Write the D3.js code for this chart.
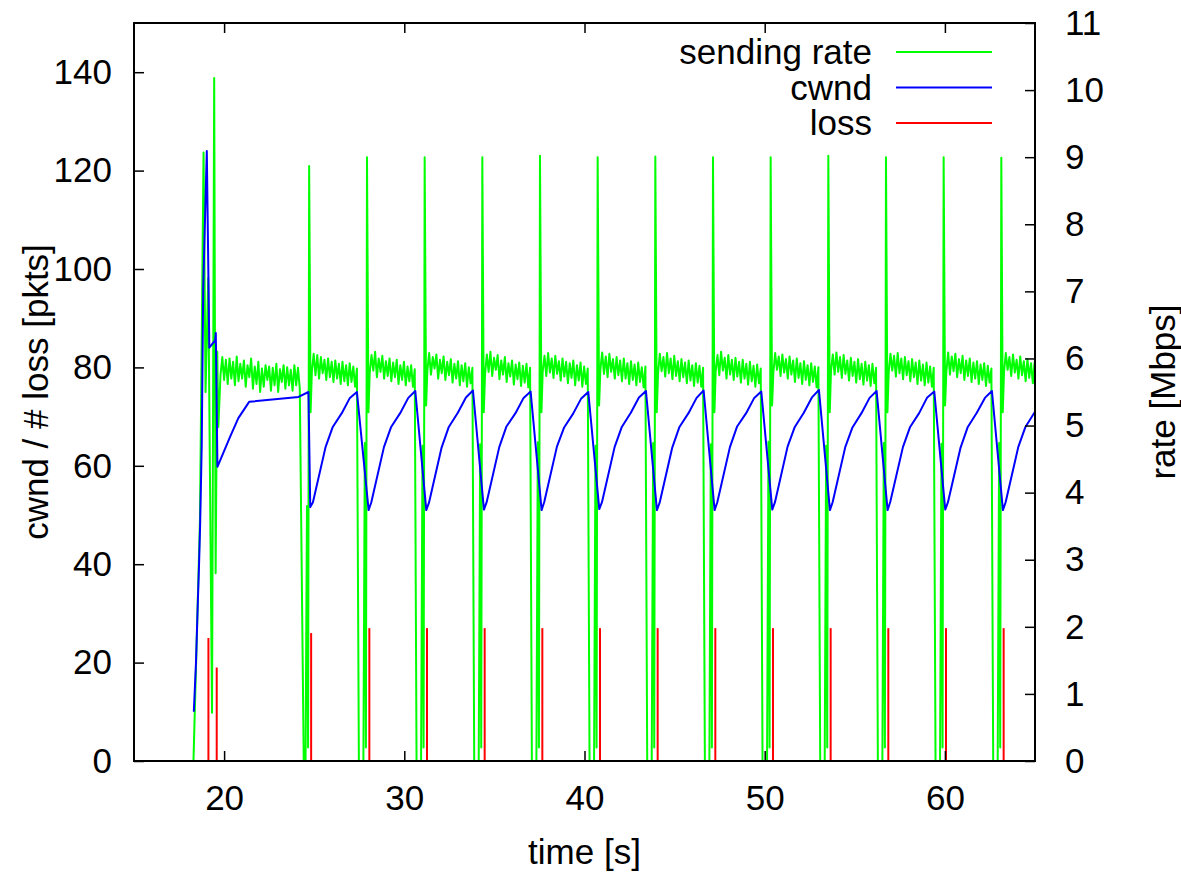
<!DOCTYPE html>
<html>
<head>
<meta charset="utf-8">
<script src="https://cdn.jsdelivr.net/npm/d3@7/dist/d3.min.js"></script>
<style>
    body { margin: 0; background: #ffffff; }
    svg { display: block; font-family: "Liberation Sans", Arial, Helvetica, sans-serif; }
</style>
</head>
<body>
<svg id="chart" width="1181" height="872"></svg>
<script>
// Axis ticks
const timeTicks = [20, 30, 40, 50, 60];
const pktTicks = [0, 20, 40, 60, 80, 100, 120, 140];
const rateTicks = [0, 1, 2, 3, 4, 5, 6, 7, 8, 9, 10, 11];

// cwnd [pkts] (left axis)
const cwndTime = [18.32, 18.44, 18.54, 18.61, 18.67, 18.76, 18.84, 19.04, 19.18, 19.5, 19.54, 19.63, 20.33, 20.79, 21.39, 24.13, 24.68,
    24.78, 24.93, 25.63, 26.03, 26.53, 26.98, 27.37,
    28.02, 28.17, 28.87, 29.27, 29.77, 30.22, 30.61,
    31.22, 31.37, 32.07, 32.47, 32.97, 33.42, 33.81,
    34.42, 34.57, 35.27, 35.67, 36.17, 36.62, 37.01,
    37.62, 37.77, 38.47, 38.87, 39.37, 39.82, 40.21,
    40.82, 40.97, 41.67, 42.07, 42.57, 43.02, 43.41,
    44.02, 44.17, 44.87, 45.27, 45.77, 46.22, 46.61,
    47.22, 47.37, 48.07, 48.47, 48.97, 49.42, 49.81,
    50.42, 50.57, 51.27, 51.67, 52.17, 52.62, 53.01,
    53.62, 53.77, 54.47, 54.87, 55.37, 55.82, 56.21,
    56.82, 56.97, 57.67, 58.07, 58.57, 59.02, 59.41,
    60.02, 60.17, 60.87, 61.27, 61.77, 62.22, 62.61,
    63.22, 63.37, 64.07, 64.47, 65.0];
const cwndPkts = [10, 20, 32, 40, 48, 64.6, 96, 124, 84, 85.5, 87, 59.8, 65.9, 69.7, 73, 74, 75,
    51.6, 52.6, 63.8, 67.9, 70.7, 73.8, 75,
    51, 52.6, 63.8, 67.9, 70.7, 73.8, 75.2,
    51, 52.5, 63.7, 67.9, 70.8, 73.9, 75.3,
    51.1, 52.6, 63.8, 68.0, 70.7, 73.8, 75.1,
    51, 52.7, 63.9, 67.8, 70.6, 73.7, 75,
    51.2, 52.6, 63.8, 67.9, 70.8, 73.9, 75.2,
    51, 52.5, 63.7, 67.9, 70.7, 73.8, 75.3,
    51, 52.6, 63.8, 68.0, 70.7, 73.8, 75.1,
    51.1, 52.6, 63.9, 67.9, 70.8, 73.9, 75.4,
    51, 52.6, 63.8, 67.8, 70.7, 73.8, 75.2,
    51, 52.7, 63.8, 67.9, 70.7, 73.9, 75.1,
    51.1, 52.6, 63.7, 67.9, 70.8, 73.8, 75.2,
    51, 52.6, 63.8, 67.9, 71.0];

// loss events [pkts] (left axis, impulses)
const lossTime = [19.13, 19.59, 24.83, 28.06, 31.26, 34.46, 37.66, 40.86, 44.06, 47.26, 50.46, 53.66, 56.86, 60.06, 63.26];
const lossPkts = [25, 19, 26, 27, 27, 27, 27, 27, 27, 27, 27, 27, 27, 27, 27];

// sending rate [Mbps] (right axis): ramp-up, drops and spikes around each loss
const burstTime = [18.3, 18.66, 18.86, 18.97, 19.12, 19.33, 19.45, 19.53, 19.62, 19.68,
    24.42, 24.52, 24.6, 24.66, 24.72, 24.8,
    27.48, 27.73, 27.81, 27.87, 27.93, 28.01,
    30.68, 30.93, 31.01, 31.07, 31.13, 31.21,
    33.88, 34.13, 34.21, 34.27, 34.33, 34.41,
    37.08, 37.33, 37.41, 37.47, 37.53, 37.61,
    40.28, 40.53, 40.61, 40.67, 40.73, 40.81,
    43.48, 43.73, 43.81, 43.87, 43.93, 44.01,
    46.68, 46.93, 47.01, 47.07, 47.13, 47.21,
    49.88, 50.13, 50.21, 50.27, 50.33, 50.41,
    53.08, 53.33, 53.41, 53.47, 53.53, 53.61,
    56.28, 56.53, 56.61, 56.67, 56.73, 56.81,
    59.48, 59.73, 59.81, 59.87, 59.93, 60.01,
    62.68, 62.93, 63.01, 63.07, 63.13, 63.21];
const burstMbps = [0, 3.6, 9.07, 5.5, 7.2, 0.72, 10.18, 2.8, 6.1, 4.98,
    0, 0, 3.8, 0.2, 8.87, 5.2,
    0, 0, 4.74, 0.2, 9.0, 5.2,
    0, 0, 4.70, 0.2, 9.0, 5.3,
    0, 0, 4.72, 0.2, 9.0, 5.2,
    0, 0, 4.75, 0.2, 9.02, 5.2,
    0, 0, 4.70, 0.2, 9.0, 5.3,
    0, 0, 4.74, 0.2, 9.01, 5.2,
    0, 0, 4.72, 0.2, 9.0, 5.2,
    0, 0, 4.76, 0.2, 9.0, 5.3,
    0, 0, 4.70, 0.2, 9.02, 5.2,
    0, 0, 4.74, 0.2, 9.0, 5.2,
    0, 0, 4.73, 0.2, 9.0, 5.3,
    0, 0, 4.74, 0.2, 8.99, 5.2];

// steady sending rate, sampled every 100 ms from each start time
const rateStep = 0.1;
const bandStart = [19.8, 24.87, 28.08, 31.28, 34.48, 37.68, 40.88, 44.08, 47.28, 50.48, 53.68, 56.88, 60.08, 63.28];
const bandMbps = [
    [5.75, 6.02, 5.68, 5.98, 5.62, 6.0, 5.7, 5.95, 5.6, 6.03, 5.66, 5.92, 5.7, 5.97, 5.58, 5.9, 5.72, 6.0, 5.55, 5.88, 5.62, 5.95, 5.5, 5.85, 5.58, 5.9, 5.68, 5.88, 5.52, 5.86, 5.6, 5.92, 5.5, 5.84, 5.65, 5.9, 5.55, 5.87, 5.6, 5.83, 5.52, 5.9, 5.6, 5.86, 5.55],
    [5.8, 6.07, 5.75, 6.05, 5.7, 6.02, 5.78, 5.98, 5.68, 6.0, 5.72, 5.95, 5.65, 5.97, 5.7, 5.92, 5.62, 5.95, 5.66, 5.9, 5.6, 5.93, 5.65, 5.88, 5.58, 5.85],
    [5.78, 6.05, 5.82, 6.1, 5.72, 6.0, 5.8, 6.04, 5.7, 5.96, 5.74, 6.0, 5.66, 5.94, 5.72, 5.98, 5.62, 5.9, 5.68, 5.95, 5.6, 5.88, 5.66, 5.9, 5.58, 5.84],
    [5.82, 6.08, 5.76, 6.02, 5.85, 6.06, 5.7, 5.98, 5.78, 6.03, 5.68, 5.95, 5.75, 5.99, 5.64, 5.92, 5.7, 5.96, 5.6, 5.9, 5.66, 5.93, 5.58, 5.87, 5.63, 5.86],
    [5.76, 6.06, 5.8, 6.1, 5.74, 6.01, 5.83, 6.05, 5.69, 5.97, 5.76, 6.02, 5.65, 5.93, 5.73, 5.97, 5.61, 5.91, 5.69, 5.94, 5.59, 5.89, 5.64, 5.92, 5.57, 5.86],
    [5.8, 6.04, 5.74, 6.08, 5.79, 6.0, 5.71, 6.04, 5.77, 5.96, 5.67, 6.0, 5.73, 5.95, 5.63, 5.93, 5.71, 5.97, 5.6, 5.9, 5.67, 5.94, 5.58, 5.88, 5.62, 5.85],
    [5.83, 6.09, 5.77, 6.03, 5.72, 6.07, 5.8, 5.99, 5.7, 6.02, 5.75, 5.97, 5.66, 6.0, 5.7, 5.93, 5.62, 5.96, 5.68, 5.91, 5.6, 5.94, 5.65, 5.87, 5.57, 5.88],
    [5.77, 6.07, 5.81, 6.02, 5.73, 6.08, 5.78, 6.0, 5.69, 6.04, 5.74, 5.96, 5.66, 5.99, 5.72, 5.94, 5.63, 5.97, 5.67, 5.9, 5.59, 5.93, 5.64, 5.89, 5.58, 5.86],
    [5.81, 6.05, 5.75, 6.1, 5.82, 6.01, 5.7, 6.05, 5.76, 5.98, 5.68, 6.01, 5.73, 5.95, 5.64, 5.98, 5.7, 5.92, 5.61, 5.95, 5.66, 5.89, 5.58, 5.91, 5.63, 5.85],
    [5.79, 6.08, 5.83, 6.03, 5.74, 6.06, 5.79, 5.99, 5.7, 6.03, 5.76, 5.97, 5.65, 6.0, 5.71, 5.93, 5.62, 5.96, 5.68, 5.9, 5.6, 5.93, 5.65, 5.88, 5.57, 5.87],
    [5.82, 6.06, 5.76, 6.09, 5.8, 6.02, 5.71, 6.05, 5.77, 5.97, 5.67, 6.01, 5.74, 5.95, 5.64, 5.99, 5.69, 5.92, 5.61, 5.95, 5.67, 5.9, 5.59, 5.92, 5.63, 5.86],
    [5.78, 6.07, 5.82, 6.04, 5.73, 6.08, 5.78, 6.0, 5.69, 6.02, 5.75, 5.96, 5.66, 5.99, 5.72, 5.94, 5.62, 5.97, 5.67, 5.91, 5.6, 5.94, 5.64, 5.88, 5.58, 5.86],
    [5.8, 6.09, 5.76, 6.03, 5.81, 6.07, 5.72, 5.99, 5.78, 6.04, 5.68, 5.97, 5.74, 6.0, 5.65, 5.94, 5.7, 5.96, 5.62, 5.91, 5.68, 5.93, 5.59, 5.89, 5.64, 5.85],
    [5.79, 6.08, 5.83, 6.02, 5.74, 6.06, 5.79, 5.98, 5.7, 6.03, 5.75, 5.96, 5.66, 5.99, 5.71, 5.93, 5.63, 5.95]
];

const legendItems = [
    { label: 'sending rate', color: '#00ff00' },
    { label: 'cwnd', color: '#0000ff' },
    { label: 'loss', color: '#ff0000' }
];

const plot = { left: 134, right: 1035, top: 23, bottom: 761 };
const fontSize = 35;

const svg = d3.select('#chart');

const x = d3.scaleLinear().domain([15, 65]).range([plot.left, plot.right]);
const yPkts = d3.scaleLinear().domain([0, 150]).range([plot.bottom, plot.top]);
const yRate = d3.scaleLinear().domain([0, 11]).range([plot.bottom, plot.top]);

// build point tables from the arrays
const ratePoints = burstTime.map((t, i) => [t, burstMbps[i]]);
bandMbps.forEach((vals, b) => {
    vals.forEach((v, j) => ratePoints.push([bandStart[b] + j * rateStep, v]));
});
ratePoints.sort((a, b) => a[0] - b[0]);

const cwndPoints = cwndTime.map((t, i) => [t, cwndPkts[i]]);
const lossPoints = lossTime.map((t, i) => [t, lossPkts[i]]);

svg.append('defs').append('clipPath').attr('id', 'plot-clip')
    .append('rect')
    .attr('x', plot.left).attr('y', plot.top)
    .attr('width', plot.right - plot.left).attr('height', plot.bottom - plot.top);

const data = svg.append('g').attr('clip-path', 'url(#plot-clip)');

data.append('path')
    .datum(ratePoints)
    .attr('fill', 'none')
    .attr('stroke', '#00ff00')
    .attr('stroke-width', 2)
    .attr('stroke-linejoin', 'round')
    .attr('d', d3.line().x(d => x(d[0])).y(d => yRate(d[1])));

data.append('path')
    .datum(cwndPoints)
    .attr('fill', 'none')
    .attr('stroke', '#0000ff')
    .attr('stroke-width', 2)
    .attr('stroke-linejoin', 'round')
    .attr('d', d3.line().x(d => x(d[0])).y(d => yPkts(d[1])));

data.selectAll('line.loss')
    .data(lossPoints)
    .enter()
    .append('line')
    .attr('class', 'loss')
    .attr('x1', d => x(d[0])).attr('x2', d => x(d[0]))
    .attr('y1', yPkts(0)).attr('y2', d => yPkts(d[1]))
    .attr('stroke', '#ff0000')
    .attr('stroke-width', 2);

// axes: gnuplot style, ticks pointing inwards
function styleAxis(g) {
    g.select('.domain').remove();
    g.selectAll('.tick line').attr('stroke', '#000').attr('stroke-width', 1.5);
    g.selectAll('.tick text').attr('fill', '#000').attr('font-size', fontSize)
        .attr('font-family', '"Liberation Sans", Arial, Helvetica, sans-serif');
}

svg.append('g')
    .attr('transform', `translate(0,${plot.bottom})`)
    .call(d3.axisBottom(x).tickValues(timeTicks).tickSize(-10).tickPadding(24))
    .call(styleAxis);

svg.append('g')
    .attr('transform', `translate(0,${plot.top})`)
    .call(d3.axisTop(x).tickValues(timeTicks).tickSize(-10).tickFormat(''))
    .call(styleAxis);

svg.append('g')
    .attr('transform', `translate(${plot.left},0)`)
    .call(d3.axisLeft(yPkts).tickValues(pktTicks).tickSize(-10).tickPadding(22))
    .call(styleAxis);

svg.append('g')
    .attr('transform', `translate(${plot.right},0)`)
    .call(d3.axisRight(yRate).tickValues(rateTicks).tickSize(-10).tickPadding(30))
    .call(styleAxis);

svg.append('rect')
    .attr('x', plot.left).attr('y', plot.top)
    .attr('width', plot.right - plot.left).attr('height', plot.bottom - plot.top)
    .attr('fill', 'none')
    .attr('stroke', '#000')
    .attr('stroke-width', 2);

// axis titles
svg.append('text')
    .attr('x', (plot.left + plot.right) / 2).attr('y', 852)
    .attr('dy', '0.35em')
    .attr('text-anchor', 'middle')
    .attr('font-size', fontSize)
    .text('time [s]');

svg.append('text')
    .attr('transform', `translate(36,${(plot.top + plot.bottom) / 2}) rotate(-90)`)
    .attr('dy', '0.35em')
    .attr('text-anchor', 'middle')
    .attr('font-size', fontSize)
    .text('cwnd / # loss [pkts]');

svg.append('text')
    .attr('transform', `translate(1163,${(plot.top + plot.bottom) / 2}) rotate(-90)`)
    .attr('dy', '0.35em')
    .attr('text-anchor', 'middle')
    .attr('font-size', fontSize)
    .text('rate [Mbps]');

// legend
const legend = svg.append('g');
legendItems.forEach((item, i) => {
    const y = 52 + i * 35.5;
    legend.append('text')
        .attr('x', 872).attr('y', y)
        .attr('dy', '0.35em')
        .attr('text-anchor', 'end')
        .attr('font-size', fontSize)
        .text(item.label);
    legend.append('line')
        .attr('x1', 896).attr('x2', 992)
        .attr('y1', y).attr('y2', y)
        .attr('stroke', item.color)
        .attr('stroke-width', 2);
});
</script>
</body>
</html>
